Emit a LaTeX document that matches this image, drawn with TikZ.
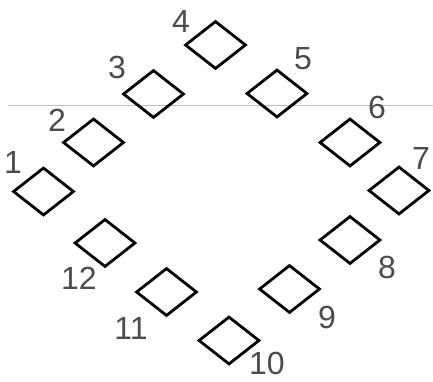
\documentclass[tikz,border=0pt]{standalone}
\usepackage{fontspec}
\setmainfont{Liberation Sans}
\usetikzlibrary{shapes.geometric}
\tikzset{
  seat/.style={diamond, draw=black, line width=2.8pt, minimum width=61pt, minimum height=48pt, inner sep=0pt},
  num/.style={text=black!70, font=\fontsize{32}{32}\selectfont, inner sep=0pt},
  rule/.style={draw=black!25, line width=0.8pt}
}
\begin{document}
\begin{tikzpicture}[x=1pt,y=-1pt]
\useasboundingbox (0,0) rectangle (433,381);
\coordinate (la) at (8,105);
\coordinate (lb) at (433,105);
\draw[rule] (la) -- (lb);
\node[seat] (d1) at (43.5,191.5) {};
\node[seat] (d2) at (93.5,142.5) {};
\node[seat] (d3) at (153.5,94) {};
\node[seat] (d4) at (215.5,45) {};
\node[seat] (d5) at (277,93.5) {};
\node[seat] (d6) at (350,142.5) {};
\node[seat] (d7) at (399,190.5) {};
\node[seat] (d8) at (350,240) {};
\node[seat] (d9) at (289.5,289) {};
\node[seat] (d10) at (229,340.5) {};
\node[seat] (d11) at (166.5,292) {};
\node[seat] (d12) at (105,243) {};
\node[num] (n1) at (13,162) {1};
\node[num] (n2) at (57,120) {2};
\node[num] (n3) at (117,67) {3};
\node[num] (n4) at (181,21) {4};
\node[num] (n5) at (303,59) {5};
\node[num] (n6) at (377,107) {6};
\node[num] (n7) at (421,158) {7};
\node[num] (n8) at (387,267) {8};
\node[num] (n9) at (327,317) {9};
\node[num] (n10) at (267,363) {10};
\node[num] (n11) at (131,328) {11};
\node[num] (n12) at (79,278) {12};
\end{tikzpicture}
\end{document}
